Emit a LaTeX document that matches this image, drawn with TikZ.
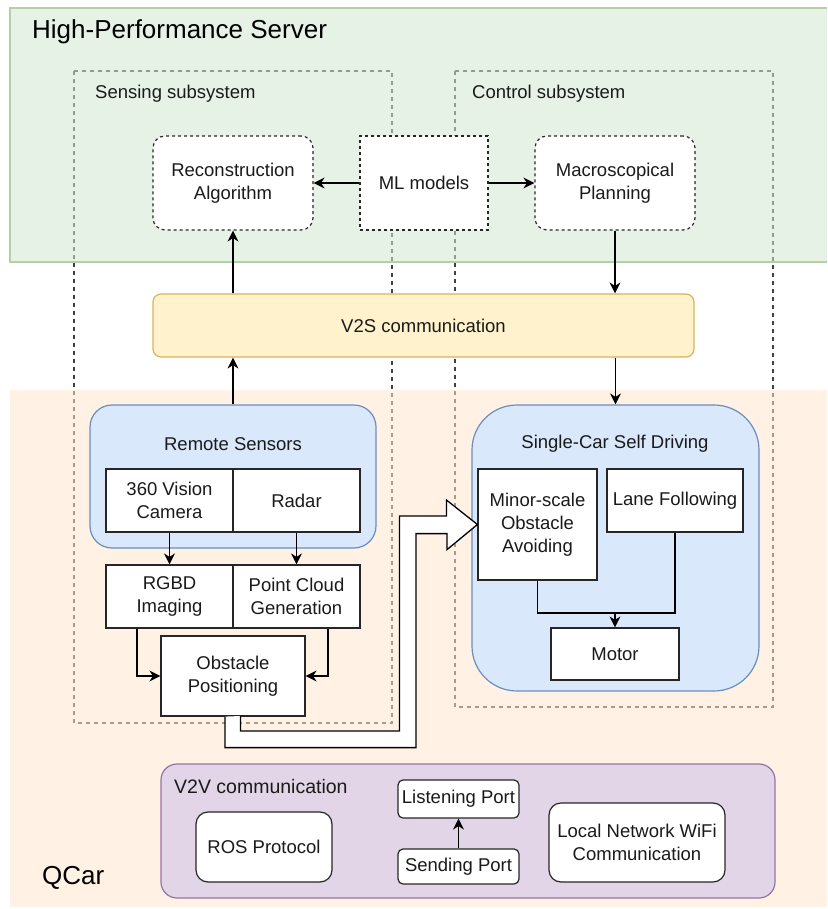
\documentclass[tikz,border=0pt]{standalone}
\usepackage{fontspec}
\setmainfont{Liberation Sans}
\usetikzlibrary{arrows.meta,calc}
\definecolor{greenfill}{HTML}{D5E8D4}
\definecolor{greenline}{HTML}{82B366}
\definecolor{orangefill}{HTML}{FFE6CC}
\definecolor{yelfill}{HTML}{FFF2CC}
\definecolor{yelline}{HTML}{D6B656}
\definecolor{bluefill}{HTML}{DAE8FC}
\definecolor{blueline}{HTML}{6C8EBF}
\definecolor{purfill}{HTML}{E1D5E7}
\definecolor{purline}{HTML}{9673A6}
\definecolor{txt}{HTML}{1A1A1A}
\tikzset{
  every node/.style={font=\fontsize{18.5}{23}\selectfont, text=txt},
  box/.style={draw=black!85, fill=white, line width=1.2pt, inner sep=0pt, align=center},
  dbox/.style={box, dashed, dash pattern=on 3pt off 3pt},
  group/.style={line width=1.2pt, inner sep=0pt},
  subsys/.style={draw=black!75, line width=1.1pt, dash pattern=on 4pt off 4pt},
  arr/.style={line width=1.2pt, draw=black, -{Stealth[length=11pt,width=11pt,inset=3.5pt]}},
  conn/.style={line width=1.2pt, draw=black},
  bigtitle/.style={font=\fontsize{26}{30}\selectfont, text=black, anchor=west, inner sep=0pt},
  lbl/.style={anchor=west, inner sep=0pt}
}
\begin{document}
\begin{tikzpicture}[x=1pt,y=-1pt]
\useasboundingbox (0,0) rectangle (827,909);
\fill[white] (0,0) rectangle (827,909);
% subsystem dashed frames (under the translucent regions)
\draw[subsys] (74,71) rectangle (392,723);
\draw[subsys] (455,71) rectangle (773,707);
% regions
\fill[greenfill, opacity=0.55] (10,8) rectangle (827,262);
\draw[greenline!60, line width=1.2pt] (827,8) -- (10,8) -- (10,262) -- (827,262);
\fill[orangefill, opacity=0.55] (10,390) rectangle (827,907);
\node[bigtitle] (hps) at (32,32) {High-Performance Server};
\node[bigtitle] (qcar) at (42,878) {QCar};
\node[lbl] (senslbl) at (95,94) {Sensing subsystem};
\node[lbl] (ctrllbl) at (472,94) {Control subsystem};
% server nodes
\node[dbox, rounded corners=12pt, minimum width=160pt, minimum height=94pt] (recon) at (233,183) {Reconstruction\\Algorithm};
\node[dbox, minimum width=128pt, minimum height=94pt] (ml) at (424,183) {ML models};
\node[dbox, rounded corners=12pt, minimum width=160pt, minimum height=94pt] (macro) at (615,183) {Macroscopical\\Planning};
\node[box, draw=yelline, fill=yelfill, rounded corners=8pt, minimum width=541pt, minimum height=63pt] (v2s) at (423.5,325.5) {V2S communication};
% remote sensors
\node[group, draw=blueline, fill=bluefill, rounded corners=22pt, minimum width=286pt, minimum height=143pt] (remote) at (233,476.5) {};
\node (remotelbl) at (233,444) {Remote Sensors};
\node[box, minimum width=127pt, minimum height=63pt] (cam) at (169.5,500.5) {360 Vision\\Camera};
\node[box, minimum width=127pt, minimum height=63pt] (radar) at (296.5,500.5) {Radar};
\node[box, minimum width=127pt, minimum height=63pt] (rgbd) at (169.5,596.5) {RGBD\\Imaging};
\node[box, minimum width=127pt, minimum height=63pt] (pcg) at (296.5,596.5) {Point Cloud\\Generation};
\node[box, minimum width=144pt, minimum height=80pt] (op) at (233,676) {Obstacle\\Positioning};
% single car
\node[group, draw=blueline, fill=bluefill, rounded corners=45pt, minimum width=287pt, minimum height=286pt] (single) at (615.5,548) {};
\node (singlelbl) at (615,444) {Single-Car Self Driving};
\node[box, minimum width=119pt, minimum height=111pt] (minor) at (537.5,524.5) {Minor-scale\\Obstacle\\Avoiding};
\node[box, minimum width=136pt, minimum height=63pt] (lane) at (675,500.5) {Lane Following};
\node[box, minimum width=128pt, minimum height=52pt] (motor) at (615,654) {Motor};
% V2V
\node[group, draw=purline, fill=purfill, rounded corners=16pt, minimum width=614pt, minimum height=134pt] (v2v) at (468,831) {};
\node[lbl, font=\fontsize{19.5}{23}\selectfont] (v2vlbl) at (174,787) {V2V communication};
\node[box, rounded corners=12pt, minimum width=136pt, minimum height=70pt] (ros) at (264,847) {ROS Protocol};
\node[box, rounded corners=5pt, minimum width=121pt, minimum height=38pt] (listen) at (458.5,799) {Listening Port};
\node[box, rounded corners=5pt, minimum width=121pt, minimum height=35pt] (send) at (458.5,866.5) {Sending Port};
\node[box, rounded corners=12pt, minimum width=176pt, minimum height=79pt] (wifi) at (637,842.5) {Local Network WiFi\\Communication};
% connectors
\draw[arr] (ml.west) -- (recon.east);
\draw[arr] (ml.east) -- (macro.west);
\draw[arr] (v2s.north -| recon.south) -- (recon.south);
\draw[arr] (macro.south) -- (macro.south |- v2s.north);
\draw[arr] (remote.north) -- (remote.north |- v2s.south);
\draw[arr] (v2s.south -| single.north) -- (single.north);
\draw[arr] (cam.south) -- (rgbd.north);
\draw[arr] (radar.south) -- (pcg.north);
\draw[arr] ([xshift=-32.5pt]rgbd.south) |- (op.west);
\draw[arr] ([xshift=31.5pt]pcg.south) |- (op.east);
\coordinate (mj) at (615,613);
\draw[conn] (minor.south) |- (mj);
\draw[conn] (lane.south) |- (mj);
\draw[arr] (mj) -- (motor.north);
\draw[arr] (send.north) -- (listen.south);
% big hollow arrow
\draw[line width=1.3pt, fill=white, line join=miter] ([xshift=-8pt]op.south) -- ++(0,31) -- ++(191,0) -- ++(0,-214) -- ++(31,0) -- ++(0,16) -- (minor.west) -- ++(-31,-24.5) -- ++(0,16) -- ++(-47,0) -- ++(0,215) -- ++(-159,0) -- ++(0,-15);
\end{tikzpicture}
\end{document}
